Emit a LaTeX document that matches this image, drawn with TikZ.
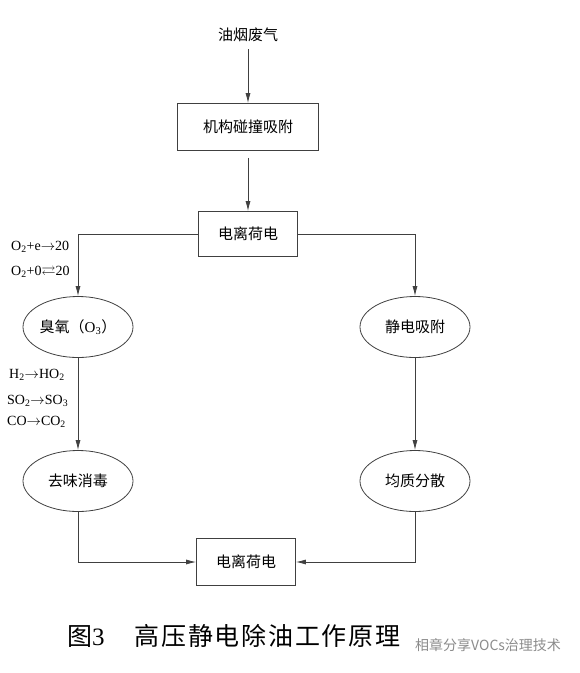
\documentclass[tikz,border=0pt]{standalone}
\usepackage{amsmath,amssymb}
\usepackage{fontspec}
\setmainfont{Liberation Serif}
\newfontfamily\cjk{Noto Sans CJK SC}
\newfontfamily\cjkwide[LetterSpace=7]{Noto Sans CJK SC}
\usetikzlibrary{arrows.meta,shapes.geometric,positioning}

\tikzset{
  stage/.style={draw=black!75, line width=0.8pt, font=\cjk\fontsize{15}{15}\selectfont},
  oval/.style={ellipse, draw=black!75, line width=0.8pt, minimum width=110pt, minimum height=61pt, inner sep=0pt, font=\cjk\fontsize{15}{15}\selectfont},
  flow/.style={draw=black!75, line width=0.8pt, -{Latex[length=10pt,width=5pt]}},
  rxn/.style={anchor=west, inner sep=0pt, font=\fontsize{14}{14}\selectfont}
}

\begin{document}
\begin{tikzpicture}[x=1pt,y=-1pt]
\useasboundingbox[fill=white] (0,0) rectangle (580,673);
% main chain
\node[font=\cjk\fontsize{15}{15}\selectfont] (gas) at (248,35) {油烟废气};
\node[stage, minimum width=141pt, minimum height=47pt] (collide) at (248,127) {机构碰撞吸附};
\node[stage, minimum width=99pt, minimum height=45pt] (ionize) at (248,234) {电离荷电};
\node[oval] (ozone) at (78,327) {臭氧（{\rmfamily O\textsubscript{3}}）};
\node[oval] (attract) at (415,327) {静电吸附};
\node[oval] (deodor) at (78,481) {去味消毒};
\node[oval] (disperse) at (415,481) {均质分散};
\node[stage, minimum width=99pt, minimum height=47pt] (ionize2) at (246,562) {电离荷电};

\draw[flow, shorten <=4pt] (gas) -- (collide);
\draw[flow, shorten <=7pt] (collide) -- (ionize);
\draw[flow] (ionize.west) -| (ozone.north);
\draw[flow] (ionize.east) -| (attract.north);
\draw[flow] (ozone) -- (deodor);
\draw[flow] (attract) -- (disperse);
\draw[flow] (deodor.south) |- (ionize2.west);
\draw[flow] (disperse.south) |- (ionize2.east);

% reactions
\node[rxn] (r1) at (11,247) {O\textsubscript{2}+e$\rightarrow$20};
\node[rxn] (r2) at (11,272) {O\textsubscript{2}+0$\rightleftarrows$20};
\node[rxn] (r3) at (9,375) {H\textsubscript{2}$\rightarrow$HO\textsubscript{2}};
\node[rxn] (r4) at (7,401) {SO\textsubscript{2}$\rightarrow$SO\textsubscript{3}};
\node[rxn] (r5) at (7,422) {CO$\rightarrow$CO\textsubscript{2}};

% caption
\node[anchor=west, inner sep=0pt, font=\cjkwide\fontsize{25}{25}\selectfont] (fig) at (67,636) {图{\rmfamily 3}\hspace{30pt}高压静电除油工作原理};
\node[anchor=west, inner sep=0pt, text=black!45, font=\cjk\fontsize{14}{14}\selectfont] (mark) at (415,645) {相章分享VOCs治理技术};
\end{tikzpicture}
\end{document}
